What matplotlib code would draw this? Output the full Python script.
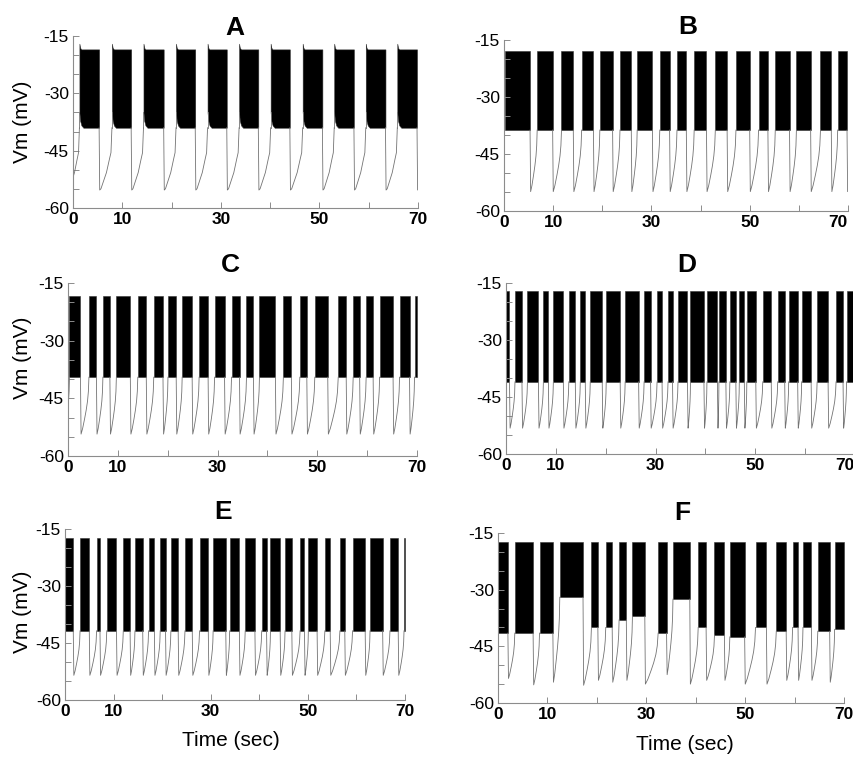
import numpy as np
import matplotlib.pyplot as plt

plt.rcParams['font.family'] = ['Liberation Sans', 'DejaVu Sans']

W, H = 854, 758

# burst onset / offset times (sec)
a_on = [1.3, 7.9, 14.3, 20.9, 27.3, 33.7, 40.1, 46.6, 53.0, 59.4, 65.8]
a_off = [5.3, 11.8, 18.4, 24.8, 31.2, 37.6, 44.0, 50.6, 57.0, 63.4, 69.8]

b_on = [0.2, 6.75, 11.7, 15.8, 19.5, 23.6, 27.1, 31.7, 35.2, 38.7, 43.0, 47.2,
        51.8, 55.2, 59.5, 64.4, 67.9]
b_off = [5.3, 9.9, 14.1, 18.2, 22.1, 25.9, 30.2, 33.7, 37.1, 41.2, 45.4, 50.0,
         53.7, 58.1, 62.4, 66.6, 69.8]

c_on = [0.3, 4.2, 7.0, 9.7, 14.0, 17.2, 20.05, 22.9, 26.3, 29.4, 32.8, 35.8,
        38.4, 43.2, 46.5, 49.5, 54.2, 57.2, 59.8, 62.5, 66.5, 69.5]
c_off = [2.5, 5.7, 8.4, 12.5, 15.7, 19.05, 21.7, 24.9, 28.1, 31.4, 34.4, 37.2,
         41.6, 44.8, 47.9, 52.1, 55.8, 58.5, 61.2, 65.2, 68.5, 70.0]

d_on = [0.0, 1.8, 4.3, 7.5, 9.5, 12.6, 14.9, 16.9, 20.1, 23.9, 27.7, 30.3,
        32.5, 34.5, 37.0, 40.3, 42.7, 44.9, 46.8, 48.3, 51.5, 54.5, 56.7, 59.3,
        62.4, 66.2, 68.3]
d_off = [0.7, 3.2, 6.5, 8.5, 11.5, 13.9, 15.9, 19.3, 22.9, 26.6, 29.0, 31.3,
         33.4, 36.4, 39.7, 42.4, 44.1, 46.1, 47.8, 50.1, 53.2, 55.9, 58.5, 61.2,
         64.6, 67.6, 70.0]

e_on = [0.1, 3.1, 6.5, 8.6, 12.0, 14.4, 17.2, 19.6, 21.8, 24.7, 27.7, 30.5,
        33.9, 37.1, 40.5, 42.3, 45.3, 48.4, 50.1, 53.5, 56.6, 59.2, 62.8, 66.9,
        69.8]
e_off = [1.7, 5.0, 7.2, 10.6, 13.4, 16.0, 18.4, 20.7, 23.3, 26.2, 29.5, 33.1,
         35.9, 39.1, 41.5, 44.3, 46.7, 49.3, 51.9, 54.6, 57.6, 61.8, 65.4, 68.6,
         70.0]

f_on = [0.0, 3.4, 8.4, 12.5, 18.9, 21.8, 24.5, 27.2, 32.4, 35.4, 40.5, 43.8,
        46.9, 52.1, 56.3, 59.6, 61.7, 64.7, 68.1]
f_off = [2.0, 7.1, 11.1, 17.2, 20.2, 23.1, 25.96, 29.7, 34.1, 38.8, 42.1, 45.8,
         49.9, 54.3, 58.3, 60.7, 63.4, 67.1, 70.0]
f_bottom = [-41.5, -41.5, -41.5, -32.0, -40.0, -40.0, -38.0, -37.0, -41.5,
            -32.5, -40.0, -42.0, -42.5, -40.0, -41.0, -40.0, -40.0, -41.0, -40.5]
f_trough = [-53.5, -55.2, -54.5, -55.3, -54.0, -54.5, -54.0, -55.0, -52.5,
            -55.0, -54.0, -54.0, -55.0, -55.0, -54.0, -54.0, -54.0, -54.5, -54.0]

# recovery shape between bursts: (fraction of time, fraction of voltage)
shape_a = ([0, 0.1, 0.55, 0.8, 0.92, 1.0], [0, 0.02, 0.28, 0.5, 0.6, 1.0])
shape_bf = ([0, 0.2, 0.45, 0.65, 0.82, 0.93, 1.0],
            [0, 0.1, 0.27, 0.42, 0.58, 0.75, 1.0])

panels = {
    'A': dict(on=a_on, off=a_off, top=-18.5, bottom=-39.0, trough=-55.3, shape=shape_a, v0=-52.0, corner=4.0),
    'B': dict(on=b_on, off=b_off, top=-17.8, bottom=-38.7, trough=-54.9, shape=shape_bf, v0=None),
    'C': dict(on=c_on, off=c_off, top=-18.3, bottom=-39.5, trough=-54.3, shape=shape_bf, v0=-47.0),
    'D': dict(on=d_on, off=d_off, top=-17.2, bottom=-41.0, trough=-53.2, shape=shape_bf, v0=None),
    'E': dict(on=e_on, off=e_off, top=-17.3, bottom=-41.8, trough=-53.5, shape=shape_bf, v0=None),
    'F': dict(on=f_on, off=f_off, top=-17.3, bottom=f_bottom, trough=f_trough, shape=shape_bf, v0=None),
}

# axes boxes in pixels: left, top, right, bottom
boxes = {
    'A': (73, 36, 418, 208),
    'B': (504, 40, 848, 211),
    'C': (68, 283, 417, 456),
    'D': (506, 283, 855, 454),
    'E': (65, 529, 405, 700),
    'F': (498, 533, 844, 703),
}
title_pos = {'A': (235, 28), 'B': (688, 27), 'C': (230, 265),
             'D': (687, 265), 'E': (223, 512), 'F': (682, 513)}


def draw_trace(ax, on, off, top, bottom, trough, shape, v0, corner=0.0):
    n = len(on)
    bottom = np.broadcast_to(np.asarray(bottom, float), (n,))
    trough = np.broadcast_to(np.asarray(trough, float), (n,))
    tf, vf = np.asarray(shape[0]), np.asarray(shape[1])
    line_kw = dict(color='0.45', lw=0.6)

    if v0 is not None:
        f0 = (v0 - trough[0]) / (bottom[0] - trough[0])
        s0 = np.interp(f0, vf, tf)
        keep = tf > s0
        t = np.r_[0, (tf[keep] - s0) / (1 - s0) * on[0]]
        v = np.r_[v0, trough[0] + vf[keep] * (bottom[0] - trough[0])]
        ax.plot(t, v, **line_kw)

    for i in range(n):
        if corner:
            # rounded start of the burst envelope
            tb = [on[i], on[i] + 0.15, on[i] + 0.4, on[i] + 0.8, off[i]]
            lo = [bottom[i] + corner, bottom[i] + corner * 0.45,
                  bottom[i] + corner * 0.15, bottom[i], bottom[i]]
            hi = [top + 1.5, top + 0.4, top, top, top]
            ax.plot([on[i], on[i]], [bottom[i], lo[0]], **line_kw)
        else:
            tb, lo, hi = [on[i], off[i]], bottom[i], top
        ax.fill_between(tb, lo, hi, color='black', lw=0.4, edgecolor='0.2')
        if off[i] >= 70:
            continue
        nxt = on[i + 1] if i + 1 < n else off[i] + 2.4
        b_next = bottom[i + 1] if i + 1 < n else bottom[i]
        t_drop = off[i] + 0.12
        t = np.r_[off[i], t_drop + tf * (nxt - t_drop)]
        v = np.r_[bottom[i], trough[i] + vf * (b_next - trough[i])]
        ax.plot(t, v, **line_kw)


fig = plt.figure(figsize=(W / 100, H / 100), dpi=100)

for name, p in panels.items():
    l, t, r, b = boxes[name]
    ax = fig.add_axes([l / W, 1 - b / H, (r - l) / W, (b - t) / H])
    draw_trace(ax, **p)
    ax.set_xlim(0, 70)
    ax.set_ylim(-60, -15)
    ax.set_yticks(np.arange(-60, -14, 5))
    ax.set_yticklabels(['-60', '', '', '-45', '', '', '-30', '', '', '-15'])
    ax.set_xticks(np.arange(0, 71, 10))
    ax.set_xticklabels(['0', '10', '', '30', '', '50', '', '70'], fontweight='bold')
    ax.tick_params(direction='in', length=4, width=0.7, color='0.55',
                   labelsize=12.5, pad=3)
    if name in ('B', 'D'):
        ax.get_xticklabels()[-1].set_horizontalalignment('right')
    for s in ['top', 'right']:
        ax.spines[s].set_visible(False)
    for s in ['left', 'bottom']:
        ax.spines[s].set_color('0.55')
        ax.spines[s].set_linewidth(0.8)
    tx, ty = title_pos[name]
    fig.text(tx / W, 1 - ty / H, name, ha='center', va='center',
             fontsize=19, fontweight='bold')

for yc in [122, 358, 612]:
    fig.text(23 / W, 1 - yc / H, 'Vm (mV)', rotation=90, ha='center',
             va='center', fontsize=15)
for xc, yc in [(231, 741), (685, 744)]:
    fig.text(xc / W, 1 - yc / H, 'Time (sec)', ha='center', va='center',
             fontsize=15)

fig.savefig('out.png', dpi=100)
